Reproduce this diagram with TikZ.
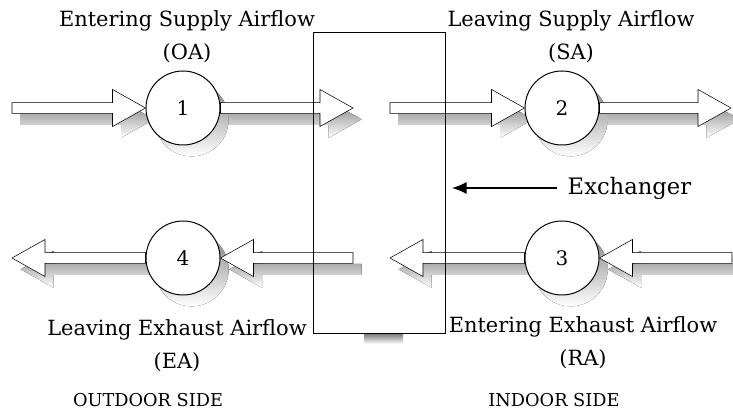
\documentclass[tikz,border=0pt]{standalone}
\usepackage{fontspec}
\setmainfont{DejaVu Serif}
\usepackage{tikz}
\usetikzlibrary{arrows.meta,calc,backgrounds}
\pgfdeclarelayer{flows}
\pgfsetlayers{background,flows,main}
\definecolor{shade}{gray}{0.5}
\newcommand{\arrowpts}[4]{%
  let \p1=(#1), \p2=(#2), \n1={sign(\x2-\x1)} in
  ({\x1+#3},{\y1+4.1pt-#4}) -- ({\x2-\n1*24.75pt+#3},{\y1+4.1pt-#4})
  -- ({\x2-\n1*24.75pt+#3},{\y1+13.9pt-#4}) -- ({\x2+#3},{\y1-#4})
  -- ({\x2-\n1*24.75pt+#3},{\y1-13.9pt-#4})
  -- ({\x2-\n1*24.75pt+#3},{\y1-4.1pt-#4})
  -- ({\x1+#3},{\y1-4.1pt-#4}) -- cycle}
\newcommand{\flow}[2]{%
  \begin{pgfonlayer}{background}
    \fill[shade] \arrowpts{#1}{#2}{6.5pt}{8.5pt};
  \end{pgfonlayer}
  \begin{pgfonlayer}{flows}
    \filldraw[fill=white] \arrowpts{#1}{#2}{0pt}{0pt};
  \end{pgfonlayer}
}
\tikzset{
  port/.style={draw,circle,fill=white,minimum size=55.5pt,inner sep=0pt,
               font=\fontsize{15}{18}\selectfont},
  lbl/.style={align=center,font=\fontsize{15.7}{25}\selectfont},
  side/.style={font=\fontsize{13.3}{15}\selectfont},
  pointer/.style={-{Latex[length=11pt,width=9pt]},line width=1pt,
                  shorten >=5pt,shorten <=4.5pt},
}

\begin{document}
\begin{tikzpicture}[x=0.75pt, y=-0.75pt, line width=0.75pt]
  \useasboundingbox (0,0) rectangle (733,413);
  \node[port] (c1) at (183,108) {1};
  \node[port] (c2) at (562,108) {2};
  \node[port] (c3) at (562,258) {3};
  \node[port] (c4) at (183,258) {4};
  \begin{scope}[on background layer]
    \foreach \c in {c1,c2,c3,c4}
      \fill[shade] ($(\c)+(6.5pt,-8.5pt)$) circle (27.75pt);
    \fill[shade] (364,334) rectangle (403,344);
  \end{scope}
  \coordinate (oa) at (12,108);
  \coordinate (s1) at (353,108);
  \coordinate (s2) at (390,108);
  \coordinate (sa) at (731,108);
  \coordinate (ra) at (732,258);
  \coordinate (e1) at (390,258);
  \coordinate (e2) at (353,258);
  \coordinate (ea) at (12,258);
  \flow{oa}{c1.west}
  \flow{c1.east}{s1}
  \flow{s2}{c2.west}
  \flow{c2.east}{sa}
  \flow{ra}{c3.east}
  \flow{c3.west}{e1}
  \flow{e2}{c4.east}
  \flow{c4.west}{ea}
  \node[draw,minimum width=99pt,minimum height=225.75pt,inner sep=0pt]
    (hx) at (379,182.5) {};
  \node[font=\fontsize{17}{20}\selectfont, anchor=west] (xl) at (563,188) {Exchanger};
  \draw[pointer] (xl.west) -- (hx.east |- xl.west);
  \node[lbl] (oal) at (187,37) {Entering Supply Airflow\\(OA)};
  \node[lbl] (sal) at (571,37) {Leaving Supply Airflow\\(SA)};
  \node[lbl] (eal) at (177,346) {Leaving Exhaust Airflow\\(EA)};
  \node[lbl] (ral) at (583,343) {Entering Exhaust Airflow\\(RA)};
  \node[side] (out) at (148,400) {OUTDOOR SIDE};
  \node[side] (in) at (554,400) {INDOOR SIDE};
\end{tikzpicture}
\end{document}
